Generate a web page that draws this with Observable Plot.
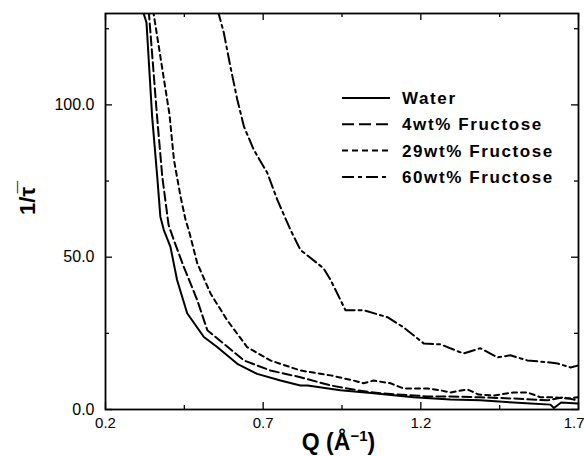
<!DOCTYPE html>
<html>
<head>
<meta charset="utf-8">
<script src="https://cdn.jsdelivr.net/npm/d3@7"></script>
<script src="https://cdn.jsdelivr.net/npm/@observablehq/plot@0.6"></script>
<style>
  html, body { margin: 0; padding: 0; background: #fff; }
  #chart { width: 584px; height: 456px; }
</style>
</head>
<body>
<div id="chart"></div>
<script>
// ---- data ----
const seriesNames = ["Water", "4wt% Fructose", "29wt% Fructose", "60wt% Fructose"];

const waterQ = [0.318,0.330,0.348,0.364,0.374,0.385,0.406,0.427,0.459,0.512,0.554,0.618,0.681,0.755,0.818,0.841,0.945,1.050,1.177,1.294,1.389,1.494,1.548,1.611,1.622,1.645,1.697];
const waterV = [131,127,96,76.5,63.3,58.9,53.4,42.5,31.6,23.8,20.5,15.0,11.7,9.5,7.9,7.9,6.3,5.3,4.0,3.3,3.0,2.3,2.0,1.6,0.5,2.3,2.0];

const fru4Q = [0.337,0.363,0.380,0.400,0.417,0.448,0.491,0.523,0.575,0.639,0.723,0.818,0.914,1.000,1.072,1.177,1.221,1.294,1.389,1.494,1.602,1.652,1.697];
const fru4V = [131,96.8,76.5,60.6,55.5,46.9,35.9,26.0,21.6,16.1,12.8,10.6,7.9,6.3,5.3,4.6,4.3,4.3,4.0,3.6,3.0,4.0,3.0];

const fru29Q = [0.351,0.403,0.417,0.438,0.454,0.464,0.491,0.533,0.586,0.649,0.723,0.818,0.914,0.987,1.018,1.050,1.104,1.145,1.221,1.262,1.294,1.348,1.383,1.431,1.494,1.538,1.580,1.621,1.665,1.697];
const fru29V = [131,96.8,82.0,69.9,62.2,58.9,48.0,38.1,29.3,20.5,16.1,12.8,11.2,9.5,8.6,9.5,8.6,6.9,6.9,6.3,5.6,6.6,4.9,4.6,5.6,5.6,4.0,4.0,3.6,4.0];

const fru60Q = [0.556,0.575,0.596,0.618,0.639,0.670,0.713,0.745,0.787,0.818,0.891,0.914,0.961,1.018,1.094,1.145,1.209,1.262,1.335,1.389,1.443,1.484,1.538,1.602,1.634,1.675,1.700];
const fru60V = [131,123.8,112.6,101.7,92.9,85.3,77.7,68.8,58.9,52.4,46.4,42.5,32.6,32.6,30.3,27.0,21.7,21.4,18.4,20.1,17.1,17.8,16.1,15.5,15.1,13.8,14.5];

const xMajorTicks = [0.2, 0.7, 1.2, 1.7];
const xMinorTicks = [0.45, 0.95, 1.45];
const yMajorTicks = [0, 50, 100];
const yMinorTicks = [25, 75, 125];

// ---- layout / style ----
const W = 584, H = 456;
const mL = 105, mR = 6, mT = 13, mB = 47;
const innerW = W - mL - mR, innerH = H - mT - mB;
const dashes = [null, "9,4", "5,4", "11,4,3,4"];
const legendDashes = [null, "12,5", "6,4", "12,4,4,4"];
const font = "'Liberation Sans', Arial, Helvetica, sans-serif";

const rows = (Q, V) => Q.map((q, i) => ({q, v: V[i]}));
const series = [rows(waterQ, waterV), rows(fru4Q, fru4V), rows(fru29Q, fru29V), rows(fru60Q, fru60V)];

const tickRulesX = (ticks, len) => [
  Plot.ruleX(ticks, {x: d => d, insetTop: innerH - len, stroke: "black", strokeWidth: 1.3}),
  Plot.ruleX(ticks, {x: d => d, insetBottom: innerH - len, stroke: "black", strokeWidth: 1.3})
];
const tickRulesY = (ticks, len) => [
  Plot.ruleY(ticks, {y: d => d, insetRight: innerW - len, stroke: "black", strokeWidth: 1.3}),
  Plot.ruleY(ticks, {y: d => d, insetLeft: innerW - len, stroke: "black", strokeWidth: 1.3})
];

const svg = Plot.plot({
  width: W, height: H,
  marginLeft: mL, marginRight: mR, marginTop: mT, marginBottom: mB,
  style: {fontFamily: font, color: "black", background: "white"},
  x: {domain: [0.2, 1.7], label: null},
  y: {domain: [0, 130], label: null},
  marks: [
    ...series.map((d, i) => Plot.line(d, {
      x: "q", y: "v", stroke: "black", strokeWidth: 2,
      strokeDasharray: dashes[i] || undefined, clip: true
    })),
    ...tickRulesX(xMajorTicks, 7),
    ...tickRulesX(xMinorTicks, 4),
    ...tickRulesY(yMajorTicks, 7),
    ...tickRulesY(yMinorTicks, 4),
    Plot.frame({stroke: "black", strokeWidth: 1.8}),
    Plot.axisX({ticks: xMajorTicks, tickSize: 0, tickPadding: 8, tickFormat: d => d.toFixed(1), fontSize: 15, label: null}),
    Plot.axisY({ticks: yMajorTicks, tickSize: 0, tickPadding: 11, tickFormat: d => d.toFixed(1), fontSize: 16, label: null})
  ]
});
document.getElementById("chart").appendChild(svg);

const s = d3.select(svg);

// keep the last x tick label inside the picture
s.selectAll("text").filter(function () { return this.textContent === "1.7"; })
  .attr("text-anchor", "end").attr("dx", 6);

// ---- axis titles ----
const xl = s.append("text")
  .attr("x", (mL + W - mR) / 2 - 3).attr("y", 450)
  .attr("text-anchor", "middle")
  .style("font-family", font).style("font-weight", "bold").style("font-size", "23px")
  .attr("fill", "black");
xl.append("tspan").text("Q (Å");
xl.append("tspan").attr("dy", -9).style("font-size", "15px").text("−1");
xl.append("tspan").attr("dy", 9).text(")");

s.append("text")
  .attr("transform", "translate(35,201) rotate(-90)")
  .attr("text-anchor", "middle")
  .style("font-family", font).style("font-weight", "bold").style("font-size", "22px")
  .attr("fill", "black")
  .text("1/τ\u0305");

// ---- legend ----
const lg = s.append("g");
seriesNames.forEach((name, i) => {
  const y = 98 + i * 26.3;
  lg.append("line")
    .attr("x1", 342).attr("x2", 390).attr("y1", y).attr("y2", y)
    .attr("stroke", "black").attr("stroke-width", 2)
    .attr("stroke-dasharray", legendDashes[i]);
  lg.append("text")
    .attr("x", 402).attr("y", y).attr("dy", "0.36em")
    .attr("text-anchor", "start")
    .style("font-family", font).style("font-weight", "bold").style("font-size", "17px")
    .style("letter-spacing", "1.6px")
    .attr("fill", "black")
    .text(name);
});
</script>
</body>
</html>
